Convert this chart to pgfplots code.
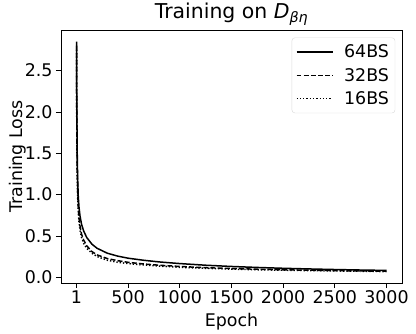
\documentclass[border=0pt]{standalone}
\usepackage{fontspec}
\setmainfont{DejaVu Sans}
\usepackage{pgfplots}
\pgfplotsset{compat=1.18}

\begin{document}
\begin{tikzpicture}
\useasboundingbox (-61bp,-51bp) rectangle (355bp,283bp);
\begin{axis}[
  at={(0,0)}, anchor=south west,
  scale only axis,
  width=341bp, height=253bp,
  xmin=-149, xmax=3150,
  ymin=-0.07, ymax=2.99,
  xtick={1,500,1000,1500,2000,2500,3000},
  ytick={0,0.5,1,1.5,2,2.5},
  yticklabel style={/pgf/number format/.cd,fixed,fixed zerofill,precision=1},
  /pgf/number format/assume math mode=true,
  /pgf/number format/1000 sep={},
  scaled x ticks=false,
  tick align=outside,
  tick pos=left,
  major tick length=5bp,
  tick style={black, line width=0.7pt},
  axis line style={line width=0.7pt},
  ticklabel style={font=\fontsize{17.5}{20}\selectfont},
  xticklabel style={yshift=1bp},
  label style={font=\fontsize{17.5}{20}\selectfont},
  title style={font=\fontsize{20.5}{24}\selectfont, yshift=-5bp},
  title={Training on \textit{D}\textsubscript{\textit{βη}}},
  xlabel={Epoch},
  ylabel={Training Loss},
  xlabel style={yshift=-3bp},
  ylabel style={yshift=-8bp},
  legend style={at={(0.98,0.97)}, anchor=north east, draw=black!15,
    rounded corners=3pt, font=\fontsize{17.5}{20}\selectfont,
    row sep=5pt, column sep=9bp, inner xsep=4pt, inner ysep=5pt},
  legend cell align=left,
  legend image post style={line width=1.2pt},
  legend image code/.code={\draw[#1] (0bp,0bp) -- (36bp,0bp);},
]
\addplot[black, line width=1.5pt] coordinates {
(1,2.85)(3,2.3)(5,1.9)(8,1.5)(12,1.2)(18,0.98)(25,0.85)(35,0.74)(50,0.64)(70,0.56)(100,0.48)(150,0.40)(200,0.35)(300,0.29)(400,0.255)(500,0.23)(650,0.205)(800,0.185)(1000,0.165)(1250,0.145)(1500,0.13)(1750,0.118)(2000,0.108)(2250,0.1)(2500,0.093)(2750,0.087)(3000,0.082)};
\addlegendentry{64BS}
\addplot[black, line width=1.5pt, dash pattern=on 5pt off 2.2pt] coordinates {
(1,2.8)(3,2.1)(5,1.7)(8,1.3)(12,1.05)(18,0.85)(25,0.72)(35,0.62)(50,0.52)(70,0.45)(100,0.38)(150,0.31)(200,0.27)(300,0.225)(400,0.2)(500,0.18)(650,0.16)(800,0.145)(1000,0.13)(1250,0.115)(1500,0.105)(1750,0.097)(2000,0.09)(2250,0.085)(2500,0.08)(2750,0.076)(3000,0.072)};
\addlegendentry{32BS}
\addplot[black, line width=1.5pt, dash pattern=on 1.3pt off 2pt] coordinates {
(1,2.75)(3,2.0)(5,1.6)(8,1.22)(12,0.98)(18,0.8)(25,0.67)(35,0.57)(50,0.48)(70,0.41)(100,0.35)(150,0.29)(200,0.25)(300,0.205)(400,0.18)(500,0.165)(650,0.148)(800,0.135)(1000,0.12)(1250,0.108)(1500,0.098)(1750,0.09)(2000,0.085)(2250,0.08)(2500,0.076)(2750,0.072)(3000,0.068)};
\addlegendentry{16BS}
\end{axis}
\end{tikzpicture}
\end{document}
